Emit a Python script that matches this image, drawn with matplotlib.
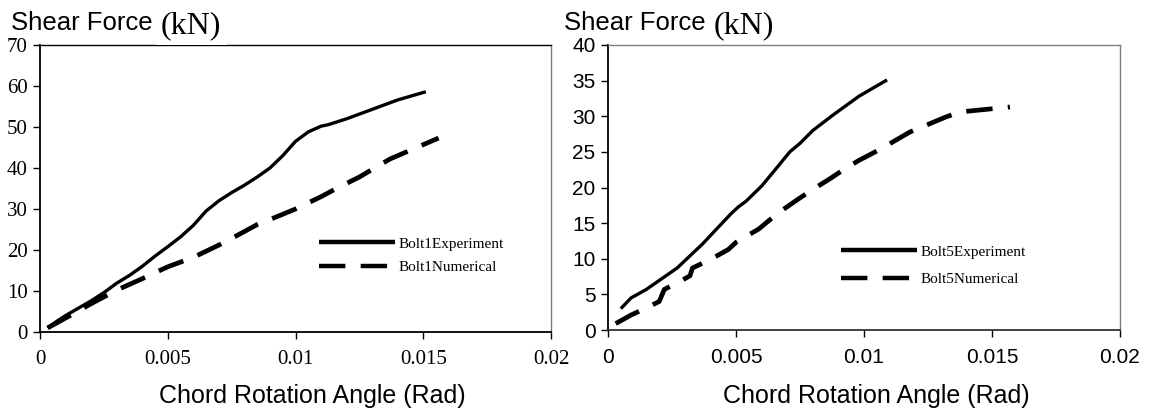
import matplotlib
matplotlib.use("Agg")
import matplotlib.pyplot as plt
from matplotlib.ticker import FixedLocator

# ---------------- data ----------------
b1_exp_x = [0.0003, 0.0007, 0.001, 0.0015, 0.002, 0.0025, 0.003, 0.0035, 0.004, 0.0045, 0.005,
            0.0055, 0.006, 0.0065, 0.007, 0.0075, 0.008, 0.0085, 0.009, 0.0095, 0.01, 0.0105,
            0.011, 0.0113, 0.012, 0.013, 0.014, 0.0151]
b1_exp_y = [1.0, 2.8, 4.0, 5.8, 7.6, 9.6, 11.9, 13.8, 16.0, 18.5, 20.8,
            23.2, 26.0, 29.5, 32.0, 34.0, 35.8, 37.8, 40.0, 43.0, 46.5, 48.8,
            50.2, 50.6, 52.0, 54.3, 56.6, 58.6]
b1_num_x = [0.0003, 0.001, 0.002, 0.003, 0.004, 0.005, 0.006, 0.007, 0.0077, 0.0085, 0.0093,
            0.01, 0.0105, 0.011, 0.0116, 0.0125, 0.0137, 0.0156]
b1_num_y = [1.0, 3.4, 6.9, 10.2, 13.0, 15.9, 18.2, 21.2, 23.5, 26.2, 28.2,
            30.0, 31.5, 33.0, 35.0, 37.8, 42.2, 47.3]

b5_exp_x = [0.0005, 0.0009, 0.0015, 0.0021, 0.0027, 0.0032, 0.0037, 0.0043, 0.0048, 0.0051,
            0.0054, 0.006, 0.0066, 0.0071, 0.0075, 0.008, 0.0088, 0.0098, 0.0109]
b5_exp_y = [3.0, 4.5, 5.7, 7.2, 8.7, 10.4, 12.1, 14.4, 16.3, 17.3,
            18.1, 20.2, 22.8, 25.0, 26.2, 28.0, 30.2, 32.8, 35.1]
b5_num_x = [0.0003, 0.0009, 0.0015, 0.002, 0.0022, 0.0028, 0.0032, 0.0033, 0.004, 0.0047,
            0.005, 0.0059, 0.0066, 0.0074, 0.0079, 0.0087, 0.0092, 0.0098, 0.0106, 0.0118,
            0.0132, 0.01375, 0.0157]
b5_num_y = [0.9, 2.1, 3.1, 4.0, 5.7, 6.8, 7.6, 8.7, 9.9, 11.3,
            12.3, 14.2, 16.3, 18.3, 19.5, 21.3, 22.5, 23.8, 25.3, 27.8,
            29.9, 30.6, 31.3]

x_ticks = [0, 0.005, 0.01, 0.015, 0.02]
x_ticklabels = ["0", "0.005", "0.01", "0.015", "0.02"]
y1_ticks = [0, 10, 20, 30, 40, 50, 60, 70]
y5_ticks = [0, 5, 10, 15, 20, 25, 30, 35, 40]
labels1 = ["Bolt1Experiment", "Bolt1Numerical"]
labels5 = ["Bolt5Experiment", "Bolt5Numerical"]

# ---------------- figure ----------------
W, H = 1151, 413
plt.rcParams["lines.scale_dashes"] = False
fig = plt.figure(figsize=(W / 100, H / 100), dpi=100)

def fx(px):
    return px / W

def fy(py):
    return 1 - py / H

SERIF = ["Liberation Serif", "DejaVu Serif"]
SANS = ["Liberation Sans", "DejaVu Sans"]

ax1 = fig.add_axes([fx(40), fy(332), fx(551) - fx(40), fy(45) - fy(332)])
ax2 = fig.add_axes([fx(608), fy(330), fx(1120) - fx(608), fy(45) - fy(330)])

DASH = (19, 11)

def style(ax, yt, tickfont):
    ax.set_xlim(0, 0.02)
    ax.set_ylim(yt[0], yt[-1])
    ax.xaxis.set_major_locator(FixedLocator(x_ticks))
    ax.yaxis.set_major_locator(FixedLocator(yt))
    ax.set_xticklabels(x_ticklabels, family=tickfont, fontsize=15)
    ax.set_yticklabels([str(v) for v in yt], family=tickfont, fontsize=15)
    ax.tick_params(axis="x", direction="out", length=5, width=1, pad=8, colors="black")
    ax.tick_params(axis="y", direction="out", length=5, width=1, pad=4, colors="black")
    for s in ["left", "bottom"]:
        ax.spines[s].set_color("black")
        ax.spines[s].set_linewidth(1.3)
    for s in ["top", "right"]:
        ax.spines[s].set_color("#7f7f7f")
        ax.spines[s].set_linewidth(1.0)

# left panel
l1, = ax1.plot(b1_exp_x, b1_exp_y, color="black", lw=2.4, solid_capstyle="butt")
l2, = ax1.plot(b1_num_x, b1_num_y, color="black", lw=3.4, dashes=DASH)
style(ax1, y1_ticks, SERIF)
ax1.spines["top"].set_color("black")
leg1 = ax1.legend([l1, l2], labels1, loc="upper left",
                  bbox_to_anchor=(fx(319), fy(237)), bbox_transform=fig.transFigure,
                  frameon=False, handlelength=5.0, handletextpad=0.2, labelspacing=0.65,
                  prop={"family": SERIF, "size": 11}, borderaxespad=0, borderpad=0)
for h in leg1.get_lines():
    h.set_linewidth(3.2)

# right panel
r1, = ax2.plot(b5_exp_x, b5_exp_y, color="black", lw=2.4, solid_capstyle="butt")
r2, = ax2.plot(b5_num_x, b5_num_y, color="black", lw=3.4, dashes=DASH)
style(ax2, y5_ticks, SANS)
ax2.spines["bottom"].set_color("#333333")
leg2 = ax2.legend([r1, r2], labels5, loc="upper left",
                  bbox_to_anchor=(fx(841), fy(245)), bbox_transform=fig.transFigure,
                  frameon=False, handlelength=5.0, handletextpad=0.2, labelspacing=0.9,
                  prop={"family": SERIF, "size": 11}, borderaxespad=0, borderpad=0)
for h in leg2.get_lines():
    h.set_linewidth(3.2)

# y-axis titles
fig.text(fx(11), fy(30), "Shear Force", family=SANS, fontsize=18.5, va="baseline", ha="left")
fig.text(fx(161), fy(33), "(kN)", family=SERIF, fontsize=23, va="baseline", ha="left",
         bbox=dict(facecolor="white", edgecolor="none", pad=4), zorder=10)
fig.text(fx(564), fy(30), "Shear Force", family=SANS, fontsize=18.5, va="baseline", ha="left")
fig.text(fx(714), fy(33), "(kN)", family=SERIF, fontsize=23, va="baseline", ha="left")

# x-axis titles
fig.text(fx(159), fy(403), "Chord Rotation Angle (Rad)", family=SANS, fontsize=18,
         va="baseline", ha="left")
fig.text(fx(723), fy(403), "Chord Rotation Angle (Rad)", family=SANS, fontsize=18,
         va="baseline", ha="left")

fig.savefig("out.png", dpi=100)
